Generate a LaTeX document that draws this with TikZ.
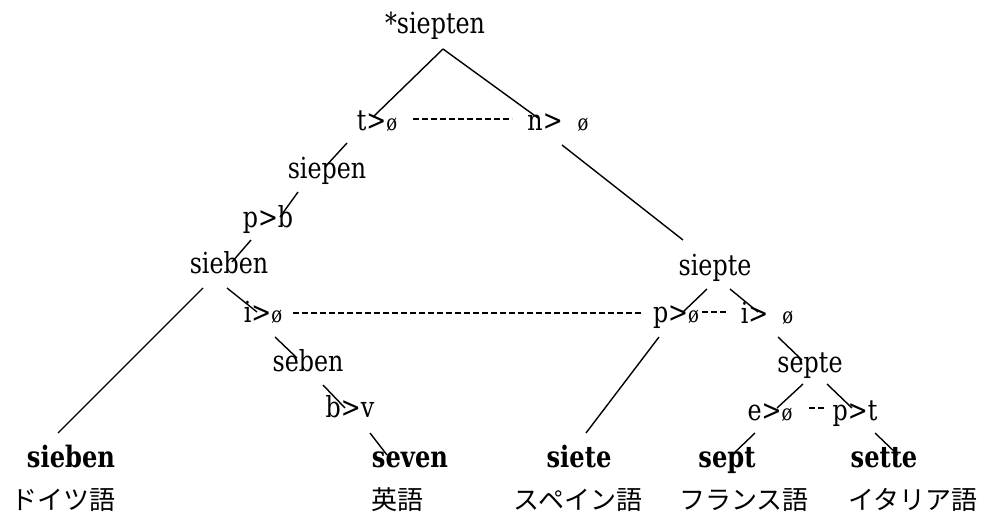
\documentclass[tikz,border=0pt]{standalone}
\usepackage{fontspec}
\setmainfont{DejaVu Serif}[FakeStretch=0.82]
\newfontfamily\jafont{Noto Sans CJK JP}
\newcommand\nul{{\fontsize{22}{22}\selectfont ø}}
\tikzset{
  form/.style={anchor=base, inner sep=0pt, font=\fontsize{29}{32}\selectfont},
  word/.style={anchor=base, inner sep=0pt, font=\fontsize{29.5}{32}\selectfont\bfseries},
  lang/.style={anchor=base, inner sep=0pt, font=\fontsize{26}{30}\selectfont\jafont},
  branch/.style={line width=1.4pt},
  link/.style={line width=1.2pt, dash pattern=on 6pt off 3pt},
}
\begin{document}
\begin{tikzpicture}[x=1pt, y=-1pt]
\useasboundingbox (0,0) rectangle (987,516);

% reconstructed forms and sound changes
\node[form] (root)   at (435,34)  {*siepten};
\node[form] (tz)     at (377,130) {t>\nul};
\node[form] (nz)     at (558,130) {n>\hspace{15pt}\nul};
\node[form] (siepen) at (327,178) {siepen};
\node[form] (pb)     at (268,227) {p>b};
\node[form] (sieb)   at (229,273) {sieben};
\node[form] (siepte) at (715,275) {siepte};
\node[form] (iz)     at (263,322) {i>\nul};
\node[form] (pz)     at (676,322) {p>\nul};
\node[form] (iz2)    at (767,323) {i>\hspace{14pt}\nul};
\node[form] (seben)  at (308,371) {seben};
\node[form] (septe)  at (810,372) {septe};
\node[form] (bv)     at (350,417) {b>v};
\node[form] (ez)     at (770,420) {e>\nul};
\node[form] (pt)     at (855,420) {p>t};

% attested words
\node[word] (de) at (71,467)  {sieben};
\node[word] (en) at (410,467) {seven};
\node[word] (es) at (579,467) {siete};
\node[word] (fr) at (727,467) {sept};
\node[word] (it) at (884,467) {sette};

% languages
\node[lang] (deL) at (63,509)  {ドイツ語};
\node[lang] (enL) at (397,509) {英語};
\node[lang] (esL) at (578,509) {スペイン語};
\node[lang] (frL) at (744,509) {フランス語};
\node[lang] (itL) at (913,509) {イタリア語};

% branch end points
\coordinate (root-b) at (443,49);
\coordinate (tz-t)   at (373,117);
\coordinate (nz-t)   at (538,118);
\coordinate (tz-b)   at (347,143);
\coordinate (siepen-t) at (325,167);
\coordinate (siepen-b) at (298,192);
\coordinate (pb-t)   at (280,217);
\coordinate (pb-b)   at (251,240);
\coordinate (sieb-t) at (232,262);
\coordinate (sieb-bl) at (203,288);
\coordinate (de-t)   at (58,433);
\coordinate (sieb-br) at (227,288);
\coordinate (iz-t)   at (257,312);
\coordinate (nz-b)   at (562,145);
\coordinate (siepte-t) at (683,240);
\coordinate (siepte-bl) at (707,289);
\coordinate (pz-t)   at (683,312);
\coordinate (siepte-br) at (730,289);
\coordinate (iz2-t)  at (758,312);
\coordinate (pz-b)   at (659,337);
\coordinate (es-t)   at (586,433);
\coordinate (iz-b)   at (275,337);
\coordinate (seben-t) at (297,358);
\coordinate (seben-b) at (323,385);
\coordinate (bv-t)   at (345,408);
\coordinate (bv-b)   at (370,433);
\coordinate (en-t)   at (387,455);
\coordinate (iz2-b)  at (778,337);
\coordinate (septe-t) at (802,360);
\coordinate (septe-bl) at (803,384);
\coordinate (ez-t)   at (777,408);
\coordinate (septe-br) at (827,384);
\coordinate (pt-t)   at (852,408);
\coordinate (ez-b)   at (755,433);
\coordinate (fr-t)   at (732,455);
\coordinate (pt-b)   at (875,433);
\coordinate (it-t)   at (898,455);

% branches
\draw[branch] (root-b) -- (tz-t);
\draw[branch] (root-b) -- (nz-t);
\draw[branch] (tz-b) -- (siepen-t);
\draw[branch] (siepen-b) -- (pb-t);
\draw[branch] (pb-b) -- (sieb-t);
\draw[branch] (sieb-bl) -- (de-t);
\draw[branch] (sieb-br) -- (iz-t);
\draw[branch] (nz-b) -- (siepte-t);
\draw[branch] (siepte-bl) -- (pz-t);
\draw[branch] (siepte-br) -- (iz2-t);
\draw[branch] (pz-b) -- (es-t);
\draw[branch] (iz-b) -- (seben-t);
\draw[branch] (seben-b) -- (bv-t);
\draw[branch] (bv-b) -- (en-t);
\draw[branch] (iz2-b) -- (septe-t);
\draw[branch] (septe-bl) -- (ez-t);
\draw[branch] (septe-br) -- (pt-t);
\draw[branch] (ez-b) -- (fr-t);
\draw[branch] (pt-b) -- (it-t);

% parallel changes
\coordinate (tz-r) at (413,119);
\coordinate (nz-l) at (512,119);
\coordinate (iz-r) at (293,313);
\coordinate (pz-l) at (643,313);
\coordinate (pz-r) at (702,312);
\coordinate (iz2-l) at (728,312);
\coordinate (ez-r) at (809,408);
\coordinate (pt-l) at (824,408);
\draw[link] (tz-r) -- (nz-l);
\draw[link] (iz-r) -- (pz-l);
\draw[link] (pz-r) -- (iz2-l);
\draw[link] (ez-r) -- (pt-l);
\end{tikzpicture}
\end{document}
